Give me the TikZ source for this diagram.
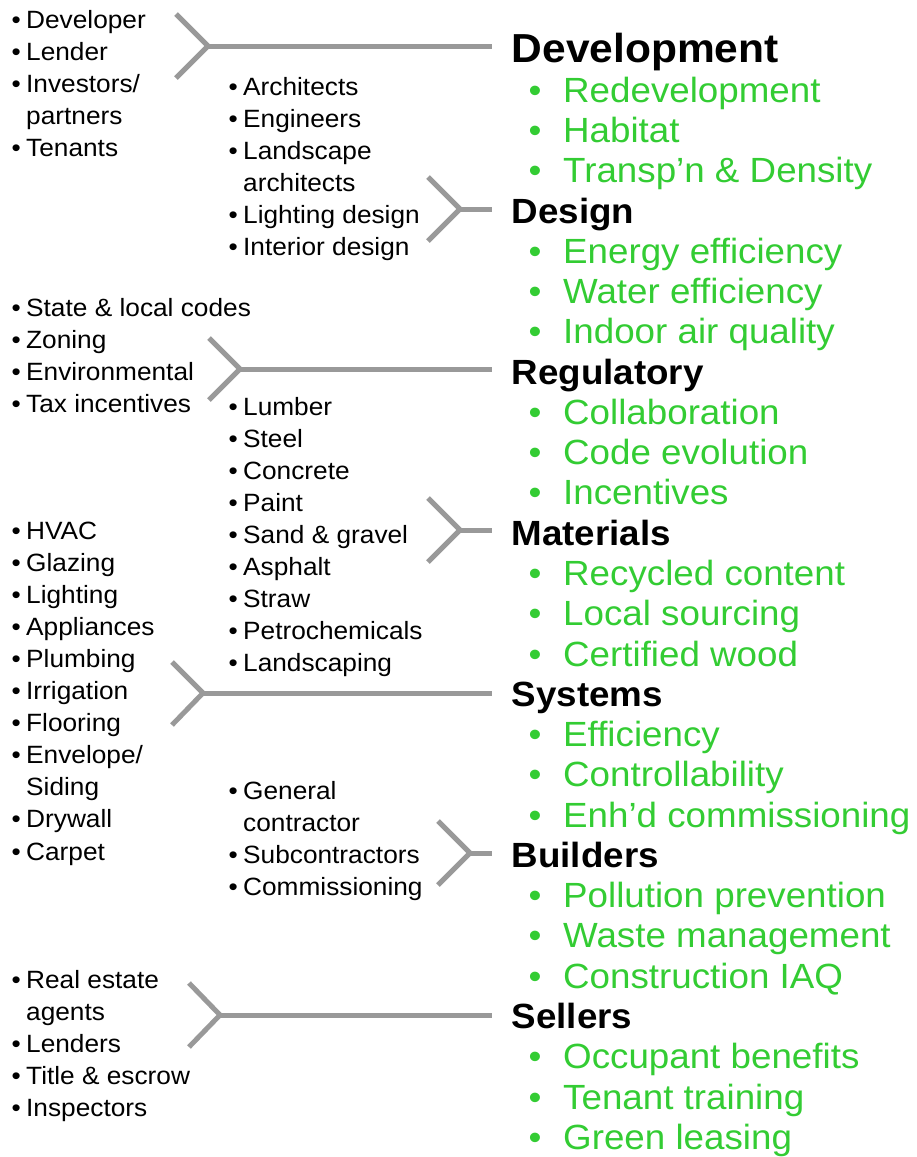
\documentclass[tikz,border=0pt]{standalone}
\usepackage{fontspec}
\setmainfont{Liberation Sans}[FakeStretch=1.05]
\definecolor{lgreen}{RGB}{51,204,51}
\definecolor{cgray}{RGB}{153,153,153}
\newcommand\sbul{\llap{•\hspace{5.5pt}}}
\newcommand\gbul{\llap{•\hspace{21.6pt}}}
\begin{document}
\begin{tikzpicture}[x=1pt,y=-1pt,
  sm/.style={font=\fontsize{25}{25}\selectfont, anchor=base west, inner sep=0pt},
  gr/.style={font=\fontsize{35}{35}\selectfont, text=lgreen, anchor=base west, inner sep=0pt},
  hd/.style={font=\fontsize{35}{35}\selectfont\bfseries, anchor=base west, inner xsep=19.5pt, inner ysep=0pt},
  conn/.style={draw=cgray, line width=5pt}]
\useasboundingbox (0,0) rectangle (916,1157);

% left lists
\foreach \t [count=\i] in {\sbul Developer, \sbul Lender, \sbul Investors/, partners, \sbul Tenants}
  \node[sm] (la\i) at (26, {28+(\i-1)*32.1}) {\t};
\foreach \t [count=\i] in {\sbul Architects, \sbul Engineers, \sbul Landscape, architects, \sbul Lighting design, \sbul Interior design}
  \node[sm] (lb\i) at (243, {95+(\i-1)*32.1}) {\t};
\foreach \t [count=\i] in {\sbul State \& local codes, \sbul Zoning, \sbul Environmental, \sbul Tax incentives}
  \node[sm] (lc\i) at (26, {316+(\i-1)*32.1}) {\t};
\foreach \t [count=\i] in {\sbul Lumber, \sbul Steel, \sbul Concrete, \sbul Paint, \sbul Sand \& gravel, \sbul Asphalt, \sbul Straw, \sbul Petrochemicals, \sbul Landscaping}
  \node[sm] (ld\i) at (243, {415+(\i-1)*32.1}) {\t};
\foreach \t [count=\i] in {\sbul HVAC, \sbul Glazing, \sbul Lighting, \sbul Appliances, \sbul Plumbing, \sbul Irrigation, \sbul Flooring, \sbul Envelope/, Siding, \sbul Drywall, \sbul Carpet}
  \node[sm] (le\i) at (26, {539+(\i-1)*32.1}) {\t};
\foreach \t [count=\i] in {\sbul General, contractor, \sbul Subcontractors, \sbul Commissioning}
  \node[sm] (lf\i) at (243, {799+(\i-1)*32.1}) {\t};
\foreach \t [count=\i] in {\sbul Real estate, agents, \sbul Lenders, \sbul Title \& escrow, \sbul Inspectors}
  \node[sm] (lg\i) at (26, {988+(\i-1)*32.1}) {\t};

% headings
\node[hd, font=\fontsize{40.5}{40.5}\selectfont\bfseries] (h1) at (492, 62) {Development};
\foreach \t [count=\i from 2] in {Design, Regulatory, Materials, Systems, Builders, Sellers}
  \node[hd] (h\i) at (492, {62+(\i-1)*4*40.27}) {\t};

% green items
\foreach \k/\t in {1/Redevelopment, 2/Habitat, 3/Transp’n \& Density,
  5/Energy efficiency, 6/Water efficiency, 7/Indoor air quality,
  9/Collaboration, 10/Code evolution, 11/Incentives,
  13/Recycled content, 14/Local sourcing, 15/Certified wood,
  17/Efficiency, 18/Controllability, 19/Enh’d commissioning,
  21/Pollution prevention, 22/Waste management, 23/Construction IAQ,
  25/Occupant benefits, 26/Tenant training, 27/Green leasing}
  \node[gr] (g\k) at (563, {62+\k*40.27}) {\gbul\t};

% chevron coordinates
\coordinate (c1a) at (176,14);  \coordinate (c1v) at (208,46);  \coordinate (c1b) at (176,78);
\coordinate (c2a) at (428,177); \coordinate (c2v) at (460,209); \coordinate (c2b) at (428,241);
\coordinate (c3a) at (209,338); \coordinate (c3v) at (240,369); \coordinate (c3b) at (209,400);
\coordinate (c4a) at (428,498); \coordinate (c4v) at (460,530); \coordinate (c4b) at (428,562);
\coordinate (c5a) at (172,662); \coordinate (c5v) at (203,693); \coordinate (c5b) at (172,725);
\coordinate (c6a) at (438,821); \coordinate (c6v) at (470,853); \coordinate (c6b) at (438,885);
\coordinate (c7a) at (189,983); \coordinate (c7v) at (220,1015); \coordinate (c7b) at (189,1047);

\foreach \i in {1,...,7}{
  \draw[conn] (c\i a) -- (c\i v) -- (c\i b);
  \draw[conn] (c\i v) -- (c\i v -| h\i.west);
}
\end{tikzpicture}
\end{document}
